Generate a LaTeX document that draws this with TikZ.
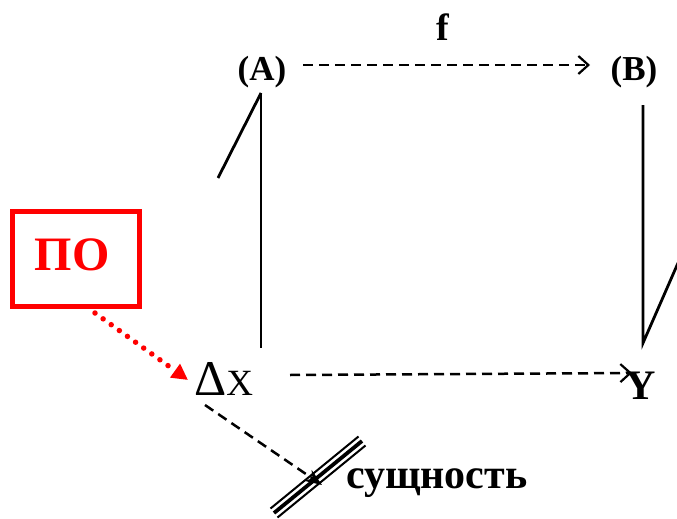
\documentclass[tikz,border=0pt]{standalone}
\usepackage{fontspec}
\setmainfont{Liberation Serif}
\usetikzlibrary{arrows.meta,calc}
\definecolor{pored}{RGB}{255,0,0}
\tikzset{
  lbl/.style={font=\bfseries\fontsize{35}{35}\selectfont, inner sep=0pt},
  solidln/.style={line width=2.8pt},
  dashln/.style={line width=2.5pt, dash pattern=on 10pt off 6pt},
  barb/.style={-{Straight Barb[length=10pt,width=18pt,line width=2.2pt]}},
}
\begin{document}
\begin{tikzpicture}[x=1pt,y=-1pt]
\useasboundingbox (0,0) rectangle (677,519);
% nodes
\node[lbl] (A) at (262,72) {(A)};
\node[lbl] (B) at (634,72) {(B)};
\node[lbl, font=\bfseries\fontsize{38}{38}\selectfont] (f) at (443,27) {f};
\node[inner sep=0pt, anchor=base west] (dx) at (194,395) {{\fontsize{50}{50}\selectfont Δ}{\fontsize{37}{37}\selectfont X}};
\node[inner sep=0pt, font=\bfseries\fontsize{42}{42}\selectfont, anchor=base] (Y) at (641,399) {Y};
\node[draw=pored, line width=5pt, minimum width=127pt, minimum height=95pt, inner sep=0pt] (po) at (76,259) {};
\node[text=pored, font=\bfseries\fontsize{48}{48}\selectfont, inner sep=0pt] (potxt) at (72,255) {ПО};
\node[font=\bfseries\fontsize{42}{42}\selectfont, inner sep=0pt, anchor=base west] (sush) at (346,488) {сущность};
% coordinates
\coordinate (atop) at (261,93);
\coordinate (abot) at (261,348);
\coordinate (adiag) at (218,178);
\coordinate (btop) at (643,105);
\coordinate (bbot) at (643,343);
\coordinate (bdiag) at (678,263);
\coordinate (fs) at (303,65);
\coordinate (fe) at (590,65);
\coordinate (xs) at (290,375);
\coordinate (xe) at (632,373);
\coordinate (ps) at (95,313);
\coordinate (pe) at (188,380);
\coordinate (ss) at (205,405);
\coordinate (se) at (322,485);
\coordinate (t1) at (274,513);
\coordinate (t2) at (362,441);
% connectors
\draw[solidln] (atop) -- (abot);
\draw[solidln] (atop) -- (adiag);
\draw[solidln] (btop) -- (bbot) -- (bdiag);
\draw[dashln, barb] (fs) -- (fe);
\draw[dashln, barb] (xs) -- (xe);
\draw[pored, line width=5.5pt, dash pattern=on 0pt off 10pt, line cap=round, -{Triangle[length=16pt,width=16pt,line cap=butt]}] (ps) -- (pe);
\draw[dashln, -{Stealth[length=17pt,width=13pt]}] (ss) -- (se);
\draw[line width=2pt] ($(t1)+(-3.5,-4.5)$) -- ($(t2)+(-3.5,-4.5)$);
\draw[line width=3.8pt] (t1) -- (t2);
\draw[line width=2pt] ($(t1)+(3.5,4.5)$) -- ($(t2)+(3.5,4.5)$);
\end{tikzpicture}
\end{document}
